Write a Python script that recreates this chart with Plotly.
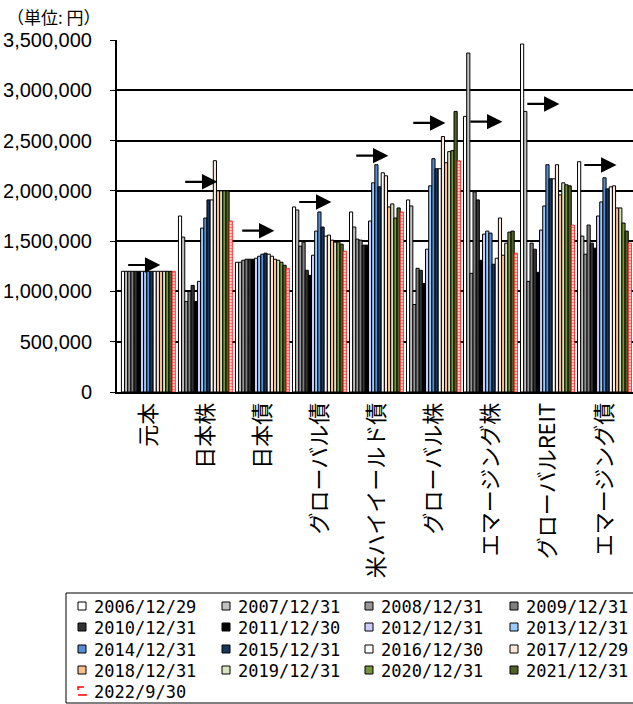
import plotly.graph_objects as go

categories = ['元本', '日本株', '日本債', 'グローバル債', '米ハイイールド債',
              'グローバル株', 'エマージング株', 'グローバルREIT', 'エマージング債']

dates = ['2006/12/29', '2007/12/31', '2008/12/31', '2009/12/31', '2010/12/31',
         '2011/12/30', '2012/12/31', '2013/12/31', '2014/12/31', '2015/12/31',
         '2016/12/30', '2017/12/29', '2018/12/31', '2019/12/31', '2020/12/31',
         '2021/12/31', '2022/9/30']

colors = ['#FFFFFF', '#C0C0C0', '#969696', '#7F7F7F', '#333333', '#000000',
          '#CCCCFF', '#99CCFF', '#558ED5', '#17375E', '#FFFFFF', '#FDE9D9',
          '#FABF8F', '#D7E4BD', '#77933C', '#4F6228', '#FF0000']

# values (yen) per category, one per date (2006 ... 2022/9)
v_principal = [1200000] * 17
v_jp_equity = [1750000, 1540000, 900000, 1000000, 1060000, 900000, 1100000, 1630000,
               1730000, 1910000, 1910000, 2300000, 2000000, 2000000, 2000000, 2000000, 1700000]
v_jp_bond = [1290000, 1290000, 1310000, 1320000, 1320000, 1320000, 1330000, 1350000,
             1370000, 1380000, 1370000, 1350000, 1320000, 1310000, 1290000, 1260000, 1230000]
v_gl_bond = [1840000, 1810000, 1450000, 1490000, 1210000, 1160000, 1360000, 1600000,
             1790000, 1640000, 1550000, 1560000, 1510000, 1490000, 1490000, 1470000, 1400000]
v_us_hy = [1790000, 1640000, 1520000, 1510000, 1460000, 1460000, 1700000, 2080000,
           2260000, 2040000, 2180000, 2150000, 1840000, 1870000, 1730000, 1830000, 1790000]
v_gl_equity = [1910000, 1850000, 870000, 1230000, 1210000, 1080000, 1420000, 2050000,
               2320000, 2220000, 2220000, 2540000, 2280000, 2390000, 2400000, 2790000, 2300000]
v_em_equity = [2740000, 3370000, 1180000, 1990000, 1910000, 1310000, 1570000, 1600000,
               1580000, 1270000, 1330000, 1730000, 1360000, 1480000, 1590000, 1600000, 1380000]
v_gl_reit = [3460000, 2790000, 1100000, 1480000, 1420000, 1190000, 1610000, 1850000,
             2260000, 2120000, 2120000, 2260000, 1960000, 2080000, 2060000, 2050000, 1660000]
v_em_bond = [2290000, 1550000, 1370000, 1660000, 1480000, 1430000, 1750000, 1890000,
             2130000, 2020000, 2040000, 2050000, 1830000, 1830000, 1680000, 1600000, 1480000]

arrow_levels = [1263000, 2090000, 1604000, 1889000, 2350000, 2675000, 2688000, 2864000, 2257000]

by_category = [v_principal, v_jp_equity, v_jp_bond, v_gl_bond, v_us_hy,
               v_gl_equity, v_em_equity, v_gl_reit, v_em_bond]

xpos = list(range(len(categories)))

# figure geometry (pixels) used for placing the hand-drawn legend
W, H = 633, 704
ML, MR, MT, MB = 117, 0, 40, 312
PW, PH = W - ML - MR, H - MT - MB


def px_x(px):
    return (px - ML) / PW


def px_y(py):
    return (H - MB - py) / PH


fig = go.Figure()
for i, d in enumerate(dates):
    vals = [cat[i] for cat in by_category]
    if i == len(dates) - 1:
        marker = dict(color='white', line=dict(color='#FF0000', width=0.8),
                      pattern=dict(shape='-', fgcolor='#FF0000', bgcolor='white',
                                   size=3, solidity=0.6))
    else:
        marker = dict(color=colors[i], line=dict(color='black', width=1))
    fig.add_trace(go.Bar(x=xpos, y=vals, name=d, marker=marker, showlegend=False))

annotations = []
shapes = []
for k, lvl in enumerate(arrow_levels):
    annotations.append(dict(x=k + 0.21, y=lvl, ax=k - 0.38, ay=lvl,
                            xref='x', yref='y', axref='x', ayref='y',
                            text='', showarrow=True, arrowhead=2,
                            arrowsize=1.4, arrowwidth=2.2, arrowcolor='black',
                            standoff=0))

annotations.append(dict(x=px_x(5), y=px_y(17), xref='paper', yref='paper',
                        text='（単位: 円）', showarrow=False,
                        xanchor='left', yanchor='middle',
                        font=dict(family='Noto Sans CJK JP', size=17, color='black')))

# legend box
shapes.append(dict(type='rect', xref='paper', yref='paper',
                   x0=px_x(66), x1=px_x(645), y0=px_y(593), y1=px_y(703),
                   line=dict(color='black', width=1), fillcolor='white', layer='above'))
col_x = [78, 222, 365, 510]
row_y = [607, 628, 650, 671, 692]
for i, d in enumerate(dates):
    cx = col_x[i % 4]
    cy = row_y[i // 4]
    if i == len(dates) - 1:
        sw_line = dict(color='#FF0000', width=1.5, dash='dash')
        sw_fill = 'white'
    else:
        sw_line = dict(color='black', width=1)
        sw_fill = colors[i]
    shapes.append(dict(type='rect', xref='paper', yref='paper',
                       x0=px_x(cx), x1=px_x(cx + 8), y0=px_y(cy + 3), y1=px_y(cy - 5),
                       line=sw_line, fillcolor=sw_fill, layer='above'))
    annotations.append(dict(x=px_x(cx + 14), y=px_y(cy), xref='paper', yref='paper',
                            text=d, showarrow=False, xanchor='left', yanchor='middle',
                            font=dict(family='DejaVu Sans Mono', size=17, color='black')))

fig.update_layout(
    width=W, height=H,
    margin=dict(l=ML, r=MR, t=MT, b=MB),
    paper_bgcolor='white', plot_bgcolor='white',
    barmode='group', bargap=0.055, bargroupgap=0,
    showlegend=False,
    annotations=annotations,
    shapes=shapes,
    xaxis=dict(range=[-0.55, 8.5], tickvals=xpos, ticktext=categories,
               tickangle=-90, showgrid=False, showline=True, linecolor='black',
               linewidth=2, ticks='', automargin=False,
               tickfont=dict(family='Noto Sans CJK JP', size=22, color='black')),
    yaxis=dict(range=[0, 3500000], dtick=500000, tickformat=',',
               showgrid=True, gridcolor='black', gridwidth=1.5,
               showline=True, linecolor='black', linewidth=2,
               ticks='outside', ticklen=5, tickcolor='black', zeroline=False,
               ticklabelstandoff=14, automargin=False,
               tickfont=dict(family='Liberation Sans', size=20, color='black')),
)

fig.write_html('out.html')
